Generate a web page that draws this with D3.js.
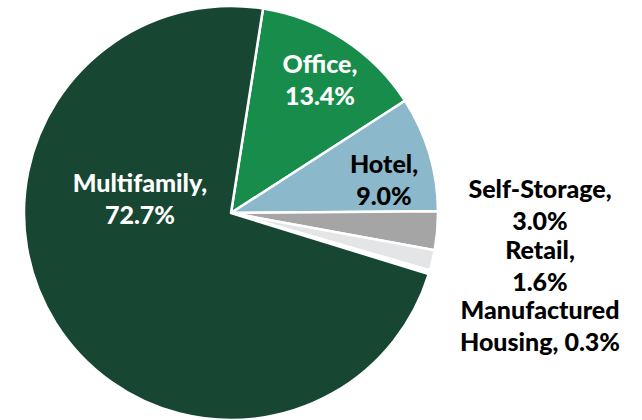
<!DOCTYPE html>
<html>
<head>
<meta charset="utf-8">
<script src="https://cdn.jsdelivr.net/npm/d3@7"></script>
<style>
  html, body { margin: 0; padding: 0; background: #ffffff; }
  svg { display: block; }
  text { font-family: Lato, "Open Sans", sans-serif; font-weight: 900; }
</style>
</head>
<body>
<svg id="chart" width="642" height="420"></svg>
<script>
// ---- data ----
const categories = ["Office", "Hotel", "Self-Storage", "Retail", "Manufactured Housing", "Multifamily"];
const shares = [13.4, 9.0, 3.0, 1.6, 0.3, 72.7];
const labelLines = [
  ["Office,", "13.4%"],
  ["Hotel,", "9.0%"],
  ["Self-Storage,", "3.0%"],
  ["Retail,", "1.6%"],
  ["Manufactured", "Housing, 0.3%"],
  ["Multifamily,", "72.7%"]
];
const colors = ["#178c4b", "#8cb8cb", "#a5a5a5", "#e4e5e7", "#ffffff", "#174733"];
const textColors = ["#ffffff", "#000000", "#000000", "#000000", "#000000", "#ffffff"];

// ---- layout ----
const W = 642, H = 420;
const cx = 231, cy = 213, R = 207;
const startDeg = 8.9;
const lineGap = 32;
// label anchors (center x, first baseline y)
const labelPos = {
  "Office": [320, 73],
  "Hotel": [384, 173],
  "Self-Storage": [540, 198],
  "Retail": [540, 259],
  "Manufactured Housing": [540, 319],
  "Multifamily": [140, 192]
};

const svg = d3.select("#chart");
const g = svg.append("g").attr("transform", `translate(${cx},${cy})`);

const data = categories.map((c, i) => ({ cat: c, value: shares[i], i }));
const start = startDeg * Math.PI / 180;
const pie = d3.pie().sort(null).value(d => d.value)
  .startAngle(start).endAngle(start + 2 * Math.PI);
const arc = d3.arc().innerRadius(0).outerRadius(R);

g.selectAll("path.slice")
  .data(pie(data))
  .join("path")
  .attr("class", "slice")
  .attr("d", arc)
  .attr("fill", d => colors[d.data.i])
  .attr("stroke", "#ffffff")
  .attr("stroke-width", 2.5)
  .attr("stroke-linejoin", "round");

const lbl = svg.append("g");
data.forEach(d => {
  const [x, y] = labelPos[d.cat];
  const t = lbl.append("text")
    .attr("x", x).attr("y", y)
    .attr("text-anchor", "middle")
    .attr("font-size", 25)
    .attr("fill", textColors[d.i]);
  labelLines[d.i].forEach((line, k) => {
    t.append("tspan").attr("x", x).attr("y", y + k * lineGap).text(line);
  });
});
</script>
</body>
</html>
